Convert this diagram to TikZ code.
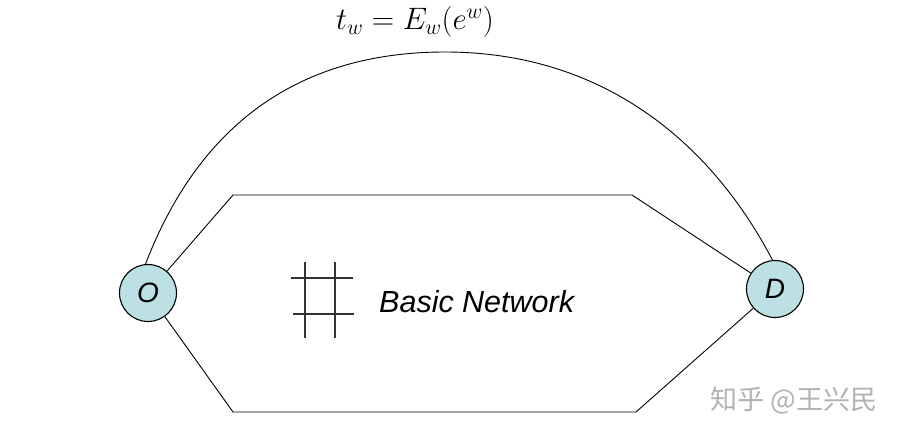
\RequirePackage{fix-cm}
\documentclass[tikz,border=0pt]{standalone}
\usepackage[no-math]{fontspec}
\setmainfont{Liberation Sans}
\newfontfamily\cjk{Noto Sans CJK SC}
\definecolor{nodefill}{RGB}{188,224,228}
\definecolor{markgray}{RGB}{178,178,178}
\begin{document}
\begin{tikzpicture}[
x=1pt,y=-1pt,
every node/.style={inner sep=0pt},
endpoint/.style={circle,draw,line width=1.1pt,fill=nodefill,minimum size=57pt,font=\fontsize{28}{30}\selectfont\itshape},
link/.style={line width=0.9pt},
gridline/.style={line width=1.4pt,black!80}
]
\useasboundingbox (0,0) rectangle (900,438);
\node[endpoint] (O) at (148,293) {O};
\node[endpoint] (D) at (775,289) {D};
\coordinate (1) at (233,195);
\coordinate (2) at (632,195);
\coordinate (3) at (233,412);
\coordinate (4) at (636,412);
\coordinate (top) at (445,52);
\draw[link] (O) -- (1) -- (2) -- (D);
\draw[link] (O) -- (3) -- (4) -- (D);
\draw[link] (O.95) .. controls (180,175) and (255,52) .. (top)
  .. controls (610,52) and (715,150) .. (D.95);
\draw[gridline] (305,262) -- (305,338);
\draw[gridline] (335,262) -- (335,338);
\draw[gridline] (291,278) -- (353,278);
\draw[gridline] (293,314) -- (354,314);
\node[anchor=base west,font=\fontsize{30.5}{34}\selectfont\itshape] (net) at (379,313) {Basic Network};
\node[font=\fontsize{31}{36}\selectfont] (cost) at (415,22) {$t_w = E_w(e^w)$};
\node[text=markgray,font=\cjk\fontsize{27}{30}\selectfont] (mark) at (794,400) {知乎 @王兴民};
\end{tikzpicture}
\end{document}
